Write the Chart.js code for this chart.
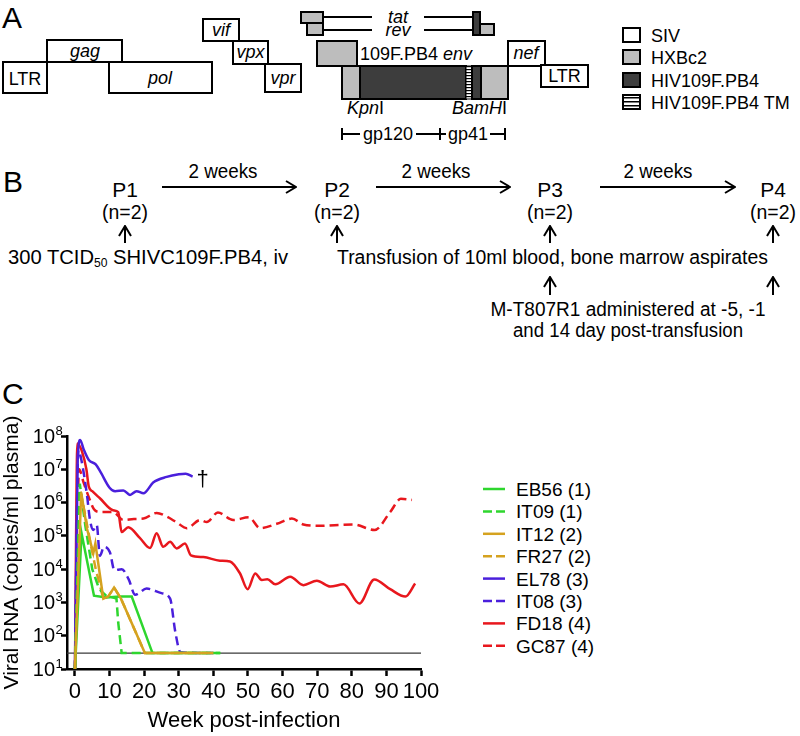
<!DOCTYPE html>
<html>
<head>
<meta charset="utf-8">
<script src="https://cdn.jsdelivr.net/npm/chart.js@4.4.1/dist/chart.umd.min.js"></script>
<style>
html, body { margin: 0; padding: 0; background: #fff; }
body { width: 800px; height: 736px; position: relative; overflow: hidden; }
#fig { position: absolute; left: 0; top: 0; }
#wrap { position: absolute; left: 0; top: 400px; width: 470px; height: 336px; }
svg text { font-family: "Liberation Sans", Arial, sans-serif; fill: #000; }
.box { fill: #fff; stroke: #000; stroke-width: 2; }
.grey { fill: #bdbdbd; stroke: #000; stroke-width: 2; }
.dark { fill: #3d3d3d; stroke: #000; stroke-width: 2; }
.ln { stroke: #000; stroke-width: 2; fill: none; }
.it { font-style: italic; }
</style>
</head>
<body>
<svg id="fig" width="800" height="736" xmlns="http://www.w3.org/2000/svg">
  <defs>
    <pattern id="stripes" width="6" height="3" patternUnits="userSpaceOnUse">
      <rect width="6" height="3" fill="#fff"/>
      <rect width="6" height="1.2" fill="#000"/>
    </pattern>
    <pattern id="stripesL" width="17" height="4" patternUnits="userSpaceOnUse">
      <rect width="17" height="4" fill="#fff"/>
      <rect y="1" width="17" height="1.5" fill="#000"/>
    </pattern>
    <marker id="ah" markerWidth="12" markerHeight="14" refX="11" refY="7" orient="auto" markerUnits="userSpaceOnUse">
      <path d="M1,1 L11,7 L1,13" fill="none" stroke="#000" stroke-width="2"/>
    </marker>
  </defs>

  <!-- panel A -->
  <text x="2" y="28" font-size="30">A</text>
  <rect class="box" x="3" y="62" width="44" height="31"/>
  <text x="25" y="85" font-size="18" text-anchor="middle">LTR</text>
  <rect class="box" x="47" y="40" width="75" height="22"/>
  <text x="85" y="57" font-size="18" text-anchor="middle" class="it">gag</text>
  <rect class="box" x="109" y="62" width="103" height="31"/>
  <text x="160" y="84" font-size="18" text-anchor="middle" class="it">pol</text>
  <rect class="box" x="203" y="19" width="36" height="22"/>
  <text x="221" y="36" font-size="18" text-anchor="middle" class="it">vif</text>
  <rect class="box" x="233" y="41" width="35" height="23"/>
  <text x="250.5" y="58" font-size="18" text-anchor="middle" class="it">vpx</text>
  <rect class="box" x="265" y="64" width="36" height="28"/>
  <text x="283" y="84" font-size="18" text-anchor="middle" class="it">vpr</text>

  <rect class="grey" x="301" y="12" width="22" height="11"/>
  <rect class="grey" x="307" y="23" width="16" height="12"/>
  <line class="ln" x1="323" y1="17" x2="372" y2="17"/>
  <line class="ln" x1="424" y1="17" x2="473" y2="17"/>
  <line class="ln" x1="323" y1="30" x2="372" y2="30"/>
  <line class="ln" x1="424" y1="30" x2="480" y2="30"/>
  <text x="398" y="23" font-size="18" text-anchor="middle" class="it">tat</text>
  <text x="398" y="36" font-size="18" text-anchor="middle" class="it">rev</text>
  <rect class="dark" x="473" y="12" width="7" height="23"/>
  <rect class="grey" x="480" y="24" width="14" height="11"/>

  <rect class="grey" x="317" y="41" width="40" height="25"/>
  <text x="360" y="60" font-size="18">109F.PB4 <tspan class="it">env</tspan></text>
  <rect class="box" x="508" y="41" width="37" height="25"/>
  <text x="526" y="59" font-size="18" text-anchor="middle" class="it">nef</text>
  <rect class="box" x="541" y="65" width="47" height="22"/>
  <text x="564.5" y="82" font-size="18" text-anchor="middle">LTR</text>
  <rect class="grey" x="342" y="66" width="18" height="33"/>
  <rect class="dark" x="360" y="66" width="106" height="33"/>
  <rect x="466" y="66" width="6" height="33" fill="url(#stripes)" stroke="#000" stroke-width="1"/>
  <rect class="dark" x="472" y="66" width="9" height="33"/>
  <rect class="grey" x="481" y="66" width="27" height="33"/>
  <text x="347" y="114" font-size="18"><tspan class="it">Kpn</tspan>I</text>
  <text x="452" y="114" font-size="18"><tspan class="it">BamH</tspan>I</text>

  <line class="ln" x1="342" y1="128" x2="342" y2="140"/>
  <line class="ln" x1="342" y1="134" x2="360" y2="134"/>
  <text x="388" y="140" font-size="18" text-anchor="middle">gp120</text>
  <line class="ln" x1="416" y1="134" x2="446" y2="134"/>
  <line class="ln" x1="440" y1="128" x2="440" y2="140"/>
  <text x="468" y="140" font-size="18" text-anchor="middle">gp41</text>
  <line class="ln" x1="490" y1="134" x2="505" y2="134"/>
  <line class="ln" x1="505" y1="128" x2="505" y2="140"/>

  <rect class="box" x="623" y="28" width="17" height="14"/>
  <text x="651" y="42" font-size="18">SIV</text>
  <rect class="grey" x="623" y="50" width="17" height="14"/>
  <text x="651" y="64" font-size="18">HXBc2</text>
  <rect class="dark" x="623" y="73" width="17" height="14"/>
  <text x="651" y="87" font-size="18">HIV109F.PB4</text>
  <rect x="623" y="95" width="17" height="14" fill="url(#stripesL)" stroke="#000" stroke-width="2"/>
  <text x="651" y="109" font-size="18">HIV109F.PB4 TM</text>

  <!-- panel B -->
  <text x="3" y="192" font-size="30">B</text>
  <g font-size="21" text-anchor="middle">
    <text x="125" y="197">P1</text><text x="125" y="219" textLength="46" lengthAdjust="spacingAndGlyphs">(n=2)</text>
    <text x="337" y="197">P2</text><text x="337" y="219" textLength="46" lengthAdjust="spacingAndGlyphs">(n=2)</text>
    <text x="550" y="197">P3</text><text x="550" y="219" textLength="46" lengthAdjust="spacingAndGlyphs">(n=2)</text>
    <text x="773" y="197">P4</text><text x="773" y="219" textLength="46" lengthAdjust="spacingAndGlyphs">(n=2)</text>
  </g>
  <g font-size="20" text-anchor="middle">
    <text x="223" y="178" textLength="69" lengthAdjust="spacingAndGlyphs">2 weeks</text>
    <text x="436" y="178" textLength="69" lengthAdjust="spacingAndGlyphs">2 weeks</text>
    <text x="658" y="178" textLength="69" lengthAdjust="spacingAndGlyphs">2 weeks</text>
  </g>
  <line class="ln" x1="162" y1="187" x2="296" y2="187" marker-end="url(#ah)"/>
  <line class="ln" x1="376" y1="187" x2="510" y2="187" marker-end="url(#ah)"/>
  <line class="ln" x1="600" y1="187" x2="735" y2="187" marker-end="url(#ah)"/>
  <line class="ln" x1="125" y1="243" x2="125" y2="226" marker-end="url(#ah)"/>
  <line class="ln" x1="337" y1="243" x2="337" y2="226" marker-end="url(#ah)"/>
  <line class="ln" x1="550" y1="243" x2="550" y2="226" marker-end="url(#ah)"/>
  <line class="ln" x1="773" y1="243" x2="773" y2="226" marker-end="url(#ah)"/>
  <text x="8" y="264" font-size="20" textLength="280" lengthAdjust="spacingAndGlyphs">300 TCID<tspan font-size="12" dy="3">50</tspan><tspan dy="-3"> SHIVC109F.PB4, iv</tspan></text>
  <text x="337" y="264" font-size="20" textLength="431" lengthAdjust="spacingAndGlyphs">Transfusion of 10ml blood, bone marrow aspirates</text>
  <line class="ln" x1="550" y1="295" x2="550" y2="277" marker-end="url(#ah)"/>
  <line class="ln" x1="773" y1="295" x2="773" y2="277" marker-end="url(#ah)"/>
  <text x="628" y="316" font-size="20" text-anchor="middle" textLength="275" lengthAdjust="spacingAndGlyphs">M-T807R1 administered at -5, -1</text>
  <text x="628" y="337" font-size="20" text-anchor="middle" textLength="230" lengthAdjust="spacingAndGlyphs">and 14 day post-transfusion</text>

  <!-- panel C label -->
  <text x="2" y="404" font-size="30">C</text>
  <g id="legendC"></g>
</svg>

<div id="wrap"><canvas id="viralChart" width="470" height="336"></canvas></div>

<script>
/* =========================
DATA
========================= */
const xTicks = [0, 10, 20, 30, 40, 50, 60, 70, 80, 90, 100];
const yTicks = [1e1, 1e2, 1e3, 1e4, 1e5, 1e6, 1e7, 1e8];
const yExponents = ['1', '2', '3', '4', '5', '6', '7', '8'];
const detectionLimit = 30;
const limitWeeks = [-2.3, 100];

const seriesNames = ['EB56 (1)', 'IT09 (1)', 'IT12 (2)', 'FR27 (2)', 'EL78 (3)', 'IT08 (3)', 'FD18 (4)', 'GC87 (4)'];

const eb56Weeks = [0, 1.9, 5.5, 9, 13, 16.4, 22.4, 42];
const eb56Load  = [1e1, 1.2e5, 1.6e3, 1.4e3, 1.5e3, 1.5e3, 3e1, 3e1];

const it09Weeks = [0, 1.4, 3, 5, 7, 9, 12, 12.5, 13.5, 42];
const it09Load  = [1e1, 3.7e6, 2e5, 1e4, 2.5e3, 1.6e3, 1.3e3, 2.5e2, 3e1, 3e1];

const it12Weeks = [0, 1.8, 3.5, 5.3, 5.9, 8.2, 9.6, 11.3, 13.3, 20.2, 40];
const it12Load  = [1e1, 2e6, 1.6e5, 3e4, 5.9e4, 1.3e3, 1.5e3, 2.8e3, 1.3e3, 3e1, 3e1];

const fr27Weeks = [0, 1.5, 3, 4.5, 6, 7.5, 8.2, 9.6, 11.3, 13.3, 20.2, 40];
const fr27Load  = [1e1, 2.5e6, 4e5, 6e4, 1e4, 2.5e3, 1.3e3, 1.5e3, 2.8e3, 1.3e3, 3e1, 3e1];

const el78Weeks = [0, 0.8, 1.5, 2.5, 4, 6, 7.5, 10, 11.6, 14, 15.9, 17.8, 19.8, 22.6, 26.5, 30, 32, 34];
const el78Load  = [1e1, 2e7, 7.6e7, 4e7, 1.9e7, 1.4e7, 7.9e6, 2.8e6, 2.2e6, 2.3e6, 1.7e6, 2.2e6, 1.9e6, 4e6, 5.9e6, 7.1e6, 7.4e6, 6e6];

const it08Weeks = [0, 1, 2, 3.5, 4.3, 5.3, 6.3, 7.2, 8.4, 10.1, 11.4, 13.5, 15.5, 17.4, 20.7, 25, 27.5, 29, 30.5, 40];
const it08Load  = [1e1, 3.8e7, 1.6e7, 1.6e6, 3.2e5, 1.5e5, 2.1e5, 2.5e4, 4.7e4, 3.2e4, 9.3e3, 1e4, 5e3, 1.7e3, 2.6e3, 1.9e3, 1.3e3, 1.3e2, 3.2e1, 3e1];

const fd18Weeks = [0, 0.7, 2, 3.3, 4, 5, 7.2, 11, 12.5, 13.5, 15.4, 18.8, 21.7, 23.6, 25.5, 27.5, 29.4, 31.8, 33.5, 37.1, 41.9, 44.8, 47.7, 49.9, 52.1, 54, 55.6, 57.9, 62.2, 66, 69.9, 73.8, 77.6, 82.2, 86.5, 91.1, 95.5, 98.3];
const fd18Load  = [1e1, 6e7, 3.5e7, 1e7, 3e6, 2.2e6, 1.35e6, 5.9e5, 5.2e5, 1.3e5, 1.8e5, 8.5e4, 4.3e4, 1.2e5, 4.7e4, 6.6e4, 4.2e4, 5.9e4, 2.6e4, 2.3e4, 1.8e4, 1.7e4, 7.4e3, 2.5e3, 7.4e3, 4.7e3, 5e3, 3.5e3, 5.9e3, 3.3e3, 4.5e3, 3e3, 3.5e3, 9.3e2, 4.9e3, 2.5e3, 1.5e3, 3.7e3];

const gc87Weeks = [0, 1.2, 2.5, 4.3, 5.5, 7.2, 11, 14, 17, 19.8, 23.6, 26.5, 29.5, 32.3, 36.2, 38.1, 41.3, 45.7, 50.3, 53.5, 58.3, 62.7, 66, 70.9, 75, 80.5, 86.6, 91.1, 94.2, 97.4];
const gc87Load  = [1e1, 1e7, 4e6, 1.2e6, 6.3e5, 5.2e5, 5.2e5, 3e5, 3.2e5, 3.3e5, 4.9e5, 3.8e5, 2.5e5, 1.7e5, 3e5, 2.6e5, 5e5, 3e5, 3.6e5, 1.7e5, 2.3e5, 3.3e5, 2.2e5, 2e5, 2.1e5, 2.2e5, 1.5e5, 5.2e5, 1.3e6, 1.2e6];

const allWeeks = [eb56Weeks, it09Weeks, it12Weeks, fr27Weeks, el78Weeks, it08Weeks, fd18Weeks, gc87Weeks];
const allLoads = [eb56Load, it09Load, it12Load, fr27Load, el78Load, it08Load, fd18Load, gc87Load];

/* =========================
STYLES
========================= */
const FONT = '"Liberation Sans", Arial, sans-serif';
const GREEN = '#2ed62e', GOLD = '#d5a21f', BLUE = '#4a1fdc', RED = '#e8171d';
const lineColors = [GREEN, GREEN, GOLD, GOLD, BLUE, BLUE, RED, RED];
const lineDashed = [false, true, false, true, false, true, false, true];
const lineSmooth = [false, false, false, false, true, true, true, true];
// draw order: solid gold above its dashed twin so the shared tail stays solid
const drawOrder = [2, 1, 0, 3, 4, 5, 6, 7];

const datasets = allWeeks.map((weeks, i) => ({
    label: seriesNames[i],
    data: weeks.map((w, j) => ({ x: w, y: allLoads[i][j] })),
    borderColor: lineColors[i],
    borderWidth: 2.5,
    borderDash: lineDashed[i] ? [9, 5] : [],
    cubicInterpolationMode: lineSmooth[i] ? 'monotone' : 'default',
    tension: 0,
    pointRadius: 0,
    fill: false,
    order: drawOrder[i]
}));

datasets.push({
    label: 'limit',
    data: limitWeeks.map(w => ({ x: w, y: detectionLimit })),
    borderColor: '#3a3a3a',
    borderWidth: 1.3,
    pointRadius: 0,
    order: 99
});

// y tick labels as 10 with raised exponent, plus the y title and the dagger
const axisExtras = {
    id: 'axisExtras',
    afterDraw(chart) {
        const ctx = chart.ctx;
        const y = chart.scales.y;
        const area = chart.chartArea;
        ctx.save();
        ctx.fillStyle = '#000';
        yTicks.forEach((v, i) => {
            const py = y.getPixelForValue(v);
            ctx.font = '20px ' + FONT;
            ctx.textAlign = 'right';
            ctx.textBaseline = 'middle';
            ctx.fillText('10', 55, py + 1);
            ctx.font = '13px ' + FONT;
            ctx.textAlign = 'left';
            ctx.fillText(yExponents[i], 55.5, py - 5);
        });
        // y title
        ctx.translate(12.6, (area.top + area.bottom) / 2);
        ctx.rotate(-Math.PI / 2);
        ctx.font = '21px ' + FONT;
        ctx.textAlign = 'center';
        ctx.textBaseline = 'middle';
        ctx.fillText('Viral RNA (copies/ml plasma)', 0, 0);
        ctx.restore();

        // dagger after the last EL78 sample
        const last = el78Weeks.length - 1;
        const dx = chart.scales.x.getPixelForValue(el78Weeks[last]);
        const dy = y.getPixelForValue(el78Load[last]);
        ctx.save();
        ctx.font = '22px ' + FONT;
        ctx.textAlign = 'center';
        ctx.textBaseline = 'middle';
        ctx.fillText('\u2020', dx + 10, dy + 3);
        ctx.restore();
    }
};

const ctx = document.getElementById('viralChart').getContext('2d');
new Chart(ctx, {
    type: 'line',
    data: { datasets },
    options: {
        responsive: false,
        animation: false,
        layout: { padding: { left: 0, top: 36, right: 49, bottom: 2 } },
        plugins: { legend: { display: false }, tooltip: { enabled: false } },
        scales: {
            x: {
                type: 'linear',
                min: -2.3,
                max: 100,
                afterBuildTicks: s => { s.ticks = xTicks.map(v => ({ value: v })); },
                afterFit: s => { s.height = 65; },
                grid: { drawOnChartArea: false, tickLength: 7, tickWidth: 2.5, tickColor: '#000' },
                border: { color: '#000', width: 2.5 },
                ticks: { color: '#000', font: { size: 22, family: FONT }, padding: 3, maxRotation: 0, autoSkip: false },
                title: { display: true, text: 'Week post-infection', color: '#000', font: { size: 22, family: FONT }, padding: 0 }
            },
            y: {
                type: 'logarithmic',
                min: 10,
                max: 1e8,
                afterBuildTicks: s => { s.ticks = yTicks.map(v => ({ value: v })); },
                afterFit: s => { s.width = 67; },
                grid: { drawOnChartArea: false, tickLength: 6, tickWidth: 2.5, tickColor: '#000' },
                border: { color: '#000', width: 2.5 },
                ticks: { callback: () => '' }
            }
        }
    },
    plugins: [axisExtras]
});

/* =========================
LEGEND (panel C)
========================= */
const legend = document.getElementById('legendC');
const NS = 'http://www.w3.org/2000/svg';
seriesNames.forEach((name, i) => {
    const cy = 489 + i * 22.4;
    const line = document.createElementNS(NS, 'line');
    line.setAttribute('x1', 483);
    line.setAttribute('x2', 505);
    line.setAttribute('y1', cy);
    line.setAttribute('y2', cy);
    line.setAttribute('stroke', lineColors[i]);
    line.setAttribute('stroke-width', 2.5);
    if (lineDashed[i]) line.setAttribute('stroke-dasharray', '9 4');
    legend.appendChild(line);
    const t = document.createElementNS(NS, 'text');
    t.setAttribute('x', 516);
    t.setAttribute('y', cy + 7);
    t.setAttribute('font-size', 19);
    t.textContent = name;
    legend.appendChild(t);
});
</script>
</body>
</html>
